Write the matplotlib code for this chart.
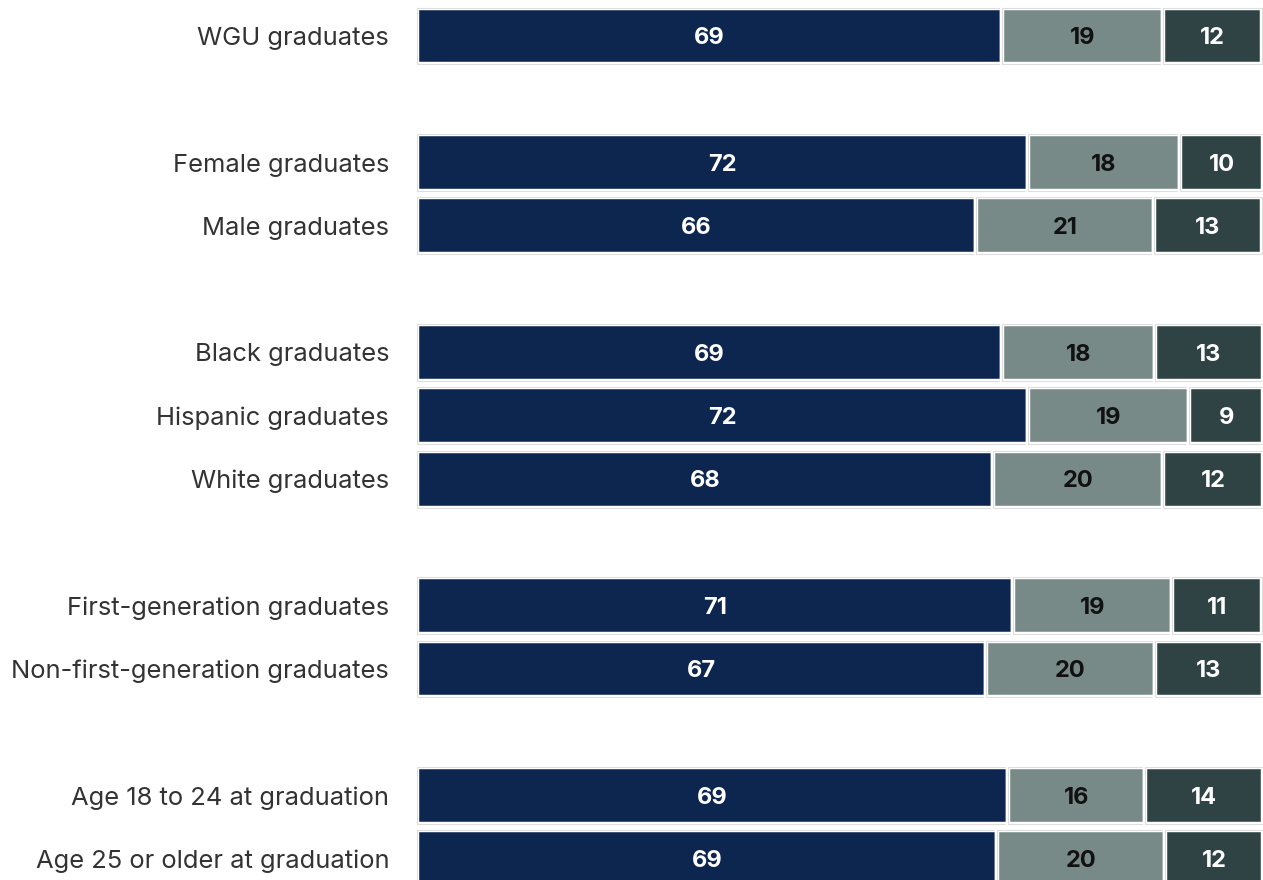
import matplotlib
matplotlib.use("Agg")
import matplotlib.pyplot as plt
import numpy as np

plt.rcParams['font.family'] = ['Inter', 'DejaVu Sans']

groups = ["WGU graduates", "Female graduates", "Male graduates",
          "Black graduates", "Hispanic graduates", "White graduates",
          "First-generation graduates", "Non-first-generation graduates",
          "Age 18 to 24 at graduation", "Age 25 or older at graduation"]
# row slots (empty slot between groups)
slots = [0, 2, 3, 5, 6, 7, 9, 10, 12, 13]

# shares
first = [69.1, 72.2, 66.1, 69.2, 72.2, 68.1, 70.4, 67.2, 69.8, 68.5]
second = [19.1, 18.0, 21.0, 18.0, 19.1, 20.1, 18.9, 20.0, 16.3, 19.9]
third = [11.7, 9.8, 12.8, 12.8, 8.7, 11.8, 10.6, 12.8, 13.9, 11.6]
# printed labels
lab1 = [69, 72, 66, 69, 72, 68, 71, 67, 69, 69]
lab2 = [19, 18, 21, 18, 19, 20, 19, 20, 16, 20]
lab3 = [12, 10, 13, 13, 9, 12, 11, 13, 14, 12]

colors = ["#0d2650", "#778a87", "#2f4244"]
text_colors = ["white", "#111111", "white"]

fig = plt.figure(figsize=(12.63, 8.80), dpi=100)
ax = fig.add_axes([417 / 1263, 0, 846 / 1263, 1])

y = np.array(slots)
left = np.zeros(len(y))
for vals, labs, c, tc in zip([first, second, third], [lab1, lab2, lab3], colors, text_colors):
    vals = np.array(vals)
    ax.barh(y, vals, left=left, height=0.9, color=c, edgecolor="white", linewidth=3.2)
    ax.barh(y, vals, left=left, height=0.9, fill=False, edgecolor="#dedede", linewidth=0.8)
    for yi, l, v, lb in zip(y, left, vals, labs):
        ax.annotate(str(lb), (l + v / 2, yi), xytext=(0, -1.5), textcoords="offset points",
                    ha="center", va="center", color=tc, fontsize=17, fontweight="bold")
    left = left + vals

ax.set_xlim(0, 100)
ax.set_ylim((880 - 36) / 63.3, -36 / 63.3)
ax.set_yticks(y)
ax.set_yticklabels(groups, fontsize=18.4, color="#333333")
ax.tick_params(axis="y", length=0, pad=20)
ax.set_xticks([])
for s in ax.spines.values():
    s.set_visible(False)

fig.savefig("out.png", dpi=100)
